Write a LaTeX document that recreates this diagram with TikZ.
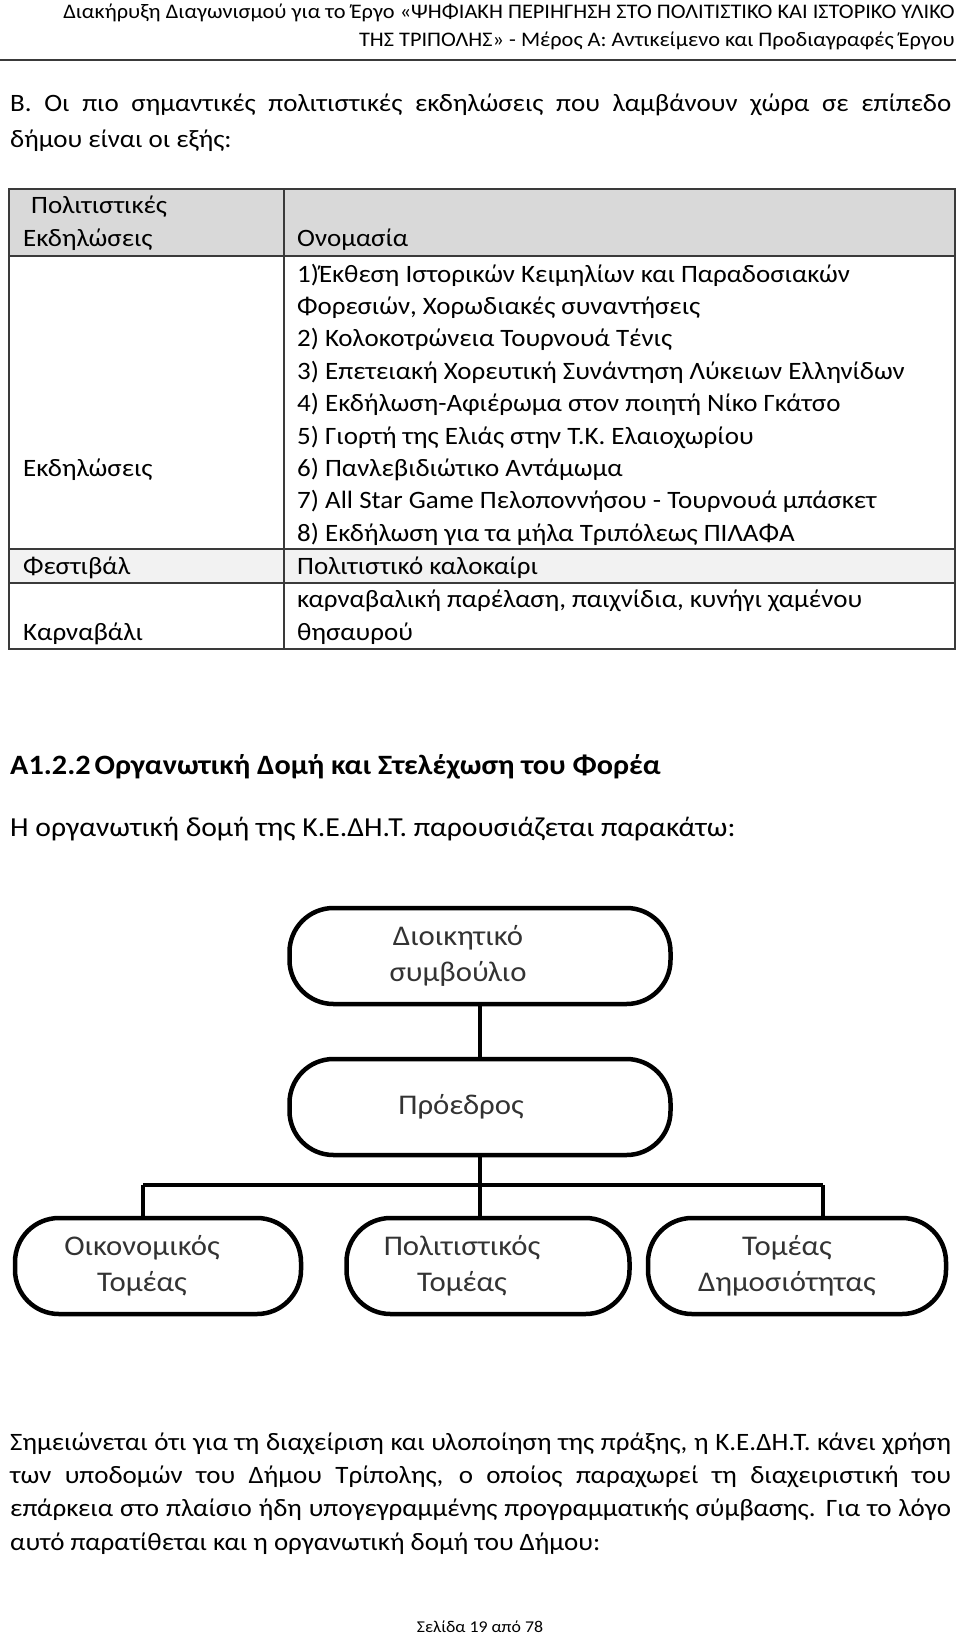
\documentclass[tikz,border=0pt]{standalone}
\usepackage{fontspec}
\setmainfont{Carlito}[FakeStretch=1.08]
\usetikzlibrary{positioning}

\definecolor{rulegray}{HTML}{3A3A3A}
\definecolor{headgray}{HTML}{D9D9D9}
\definecolor{rowgray}{HTML}{F2F2F2}
\definecolor{orgtext}{HTML}{333333}

\newcommand{\justline}[1]{\makebox[941pt][s]{#1}}

\tikzset{
  headtext/.style={anchor=base east, inner sep=0pt, font=\fontsize{20.7}{27}\selectfont},
  paraline/.style={anchor=base west, inner sep=0pt, font=\fontsize{25}{34}\selectfont},
  cell/.style={anchor=base west, inner sep=0pt, font=\fontsize{25}{32}\selectfont},
  tableline/.style={line width=2pt, rulegray},
  orgbox/.style={draw, line width=4.5pt, rounded corners=44pt, minimum height=96pt},
  orglabel/.style={align=center, inner sep=0pt, text=orgtext, font=\fontsize{28.5}{36}\selectfont},
  link/.style={line width=4.5pt}
}

\begin{document}
\begin{tikzpicture}[x=1pt,y=-1pt]
\useasboundingbox (0,0) rectangle (960,1638);
\fill[white] (0,0) rectangle (960,1638);

%header
\node[headtext] (head1) at (955,19) {Διακήρυξη Διαγωνισμού για το Έργο «ΨΗΦΙΑΚΗ ΠΕΡΙΗΓΗΣΗ ΣΤΟ ΠΟΛΙΤΙΣΤΙΚΟ ΚΑΙ ΙΣΤΟΡΙΚΟ ΥΛΙΚΟ};
\node[headtext] (head2) at (955,46) {ΤΗΣ ΤΡΙΠΟΛΗΣ» - Μέρος Α: Αντικείμενο και Προδιαγραφές Έργου};
\draw[line width=2.5pt, rulegray] (0,60) -- (956,60);

%intro
\node[paraline] (intro1) at (10,111) {\justline{Β. Οι πιο σημαντικές πολιτιστικές εκδηλώσεις που λαμβάνουν χώρα σε επίπεδο}};
\node[paraline] (intro2) at (10,147) {δήμου είναι οι εξής:};

%table
\fill[headgray] (9,189) rectangle (955,256);
\fill[rowgray] (9,549) rectangle (955,583);
\draw[tableline] (9,189) rectangle (955,649);
\draw[tableline] (284,189) -- (284,649);
\draw[tableline] (9,256) -- (955,256);
\draw[tableline] (9,549) -- (955,549);
\draw[tableline] (9,583) -- (955,583);

%table head
\node[cell] (kind1) at (31,213) {Πολιτιστικές};
\node[cell] (kind2) at (23,246) {Εκδηλώσεις};
\node[cell] (name) at (297,246) {Ονομασία};

%events
\node[cell] (ev) at (23,476.4) {Εκδηλώσεις};
\node[cell] (ev1) at (297,282) {1)Έκθεση Ιστορικών Κειμηλίων και Παραδοσιακών};
\node[cell] (ev1b) at (297,314.4) {Φορεσιών, Χορωδιακές συναντήσεις};
\node[cell] (ev2) at (297,346.8) {2) Κολοκοτρώνεια Τουρνουά Τένις};
\node[cell] (ev3) at (297,379.2) {3) Επετειακή Χορευτική Συνάντηση Λύκειων Ελληνίδων};
\node[cell] (ev4) at (297,411.6) {4) Εκδήλωση-Αφιέρωμα στον ποιητή Νίκο Γκάτσο};
\node[cell] (ev5) at (297,444) {5) Γιορτή της Ελιάς στην Τ.Κ. Ελαιοχωρίου};
\node[cell] (ev6) at (297,476.4) {6) Πανλεβιδιώτικο Αντάμωμα};
\node[cell] (ev7) at (297,508.8) {7) All Star Game Πελοποννήσου - Τουρνουά μπάσκετ};
\node[cell] (ev8) at (297,541.2) {8) Εκδήλωση για τα μήλα Τριπόλεως ΠΙΛΑΦΑ};

%festival
\node[cell] (fest) at (23,574) {Φεστιβάλ};
\node[cell] (fest1) at (297,574) {Πολιτιστικό καλοκαίρι};

%carnival
\node[cell] (carn) at (23,640) {Καρναβάλι};
\node[cell] (carn1) at (297,607) {καρναβαλική παρέλαση, παιχνίδια, κυνήγι χαμένου};
\node[cell] (carn1b) at (297,640) {θησαυρού};

%section
\node[paraline, font=\bfseries\fontsize{28}{34}\selectfont] (sect) at (10,774) {Α1.2.2\hspace{4pt}Οργανωτική Δομή και Στελέχωση του Φορέα};
\node[paraline, font=\fontsize{27.5}{34}\selectfont] (sectline) at (10,836) {Η οργανωτική δομή της Κ.Ε.ΔΗ.Τ. παρουσιάζεται παρακάτω:};

%org chart boxes
\node[orgbox, minimum width=381pt] (board) at (480,956) {};
\node[orgbox, minimum width=381pt] (pres) at (480,1107) {};
\node[orgbox, minimum width=286pt] (fin) at (158,1266) {};
\node[orgbox, minimum width=283pt] (cult) at (488,1266) {};
\node[orgbox, minimum width=298pt] (pub) at (797,1266) {};

%org chart labels
\node[orglabel] (boardtext) at ([xshift=-22pt]board.center) {Διοικητικό\\συμβούλιο};
\node[orglabel] (prestext) at ([xshift=-19pt]pres.center) {Πρόεδρος};
\node[orglabel] (fintext) at ([xshift=-16pt]fin.center) {Οικονομικός\\Τομέας};
\node[orglabel] (culttext) at ([xshift=-26pt]cult.center) {Πολιτιστικός\\Τομέας};
\node[orglabel] (pubtext) at ([xshift=-10pt]pub.center) {Τομέας\\Δημοσιότητας};

%org chart lines
\coordinate (barL) at (143,1185);
\coordinate (barR) at (823,1185);
\draw[link] (board) -- (pres);
\draw[link] (pres.south) -- (pres.south |- cult.north);
\draw[link] (barL) -- (barR);
\draw[link] (barL) -- (barL |- fin.north);
\draw[link] (barR) -- (barR |- pub.north);

%closing text
\node[paraline] (note1) at (10,1450) {\justline{Σημειώνεται ότι για τη διαχείριση και υλοποίηση της πράξης, η Κ.Ε.ΔΗ.Τ. κάνει χρήση}};
\node[paraline] (note2) at (10,1483) {\justline{των υποδομών του Δήμου Τρίπολης, ο οποίος παραχωρεί τη διαχειριστική του}};
\node[paraline] (note3) at (10,1516) {\justline{επάρκεια στο πλαίσιο ήδη υπογεγραμμένης προγραμματικής σύμβασης. Για το λόγο}};
\node[paraline] (note4) at (10,1550) {αυτό παρατίθεται και η οργανωτική δομή του Δήμου:};

%footer
\node[paraline, anchor=base, font=\fontsize{16.5}{20}\selectfont] (page) at (480,1632) {Σελίδα 19 από 78};
\end{tikzpicture}
\end{document}
